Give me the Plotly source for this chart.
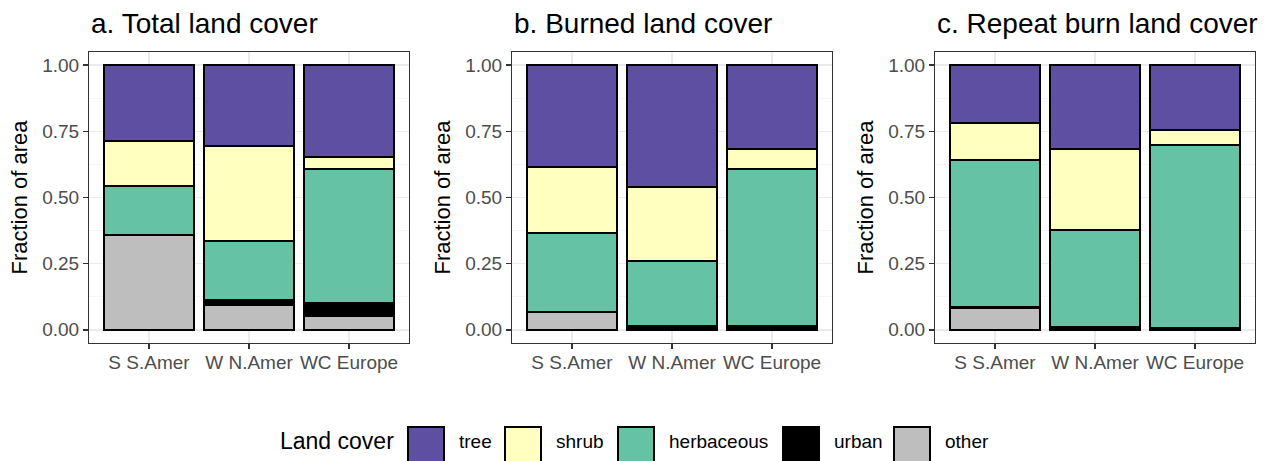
import plotly.graph_objects as go

# ---------------- data ----------------
regions = ["S S.Amer", "W N.Amer", "WC Europe"]
land_covers = ["tree", "shrub", "herbaceous", "urban", "other"]
panel_titles = ["a. Total land cover", "b. Burned land cover", "c. Repeat burn land cover"]

# fractions per region (S S.Amer, W N.Amer, WC Europe)
total_tree = [0.287, 0.306, 0.348]
total_shrub = [0.168, 0.358, 0.045]
total_herb = [0.185, 0.225, 0.504]
total_urban = [0.003, 0.018, 0.050]
total_other = [0.357, 0.093, 0.053]

burned_tree = [0.386, 0.459, 0.316]
burned_shrub = [0.247, 0.281, 0.077]
burned_herb = [0.298, 0.247, 0.592]
burned_urban = [0.002, 0.008, 0.012]
burned_other = [0.067, 0.005, 0.003]

repeat_tree = [0.218, 0.318, 0.243]
repeat_shrub = [0.140, 0.306, 0.059]
repeat_herb = [0.556, 0.364, 0.692]
repeat_urban = [0.002, 0.006, 0.005]
repeat_other = [0.084, 0.006, 0.001]

y_tick_vals = [0.0, 0.25, 0.5, 0.75, 1.0]
y_tick_text = ["0.00", "0.25", "0.50", "0.75", "1.00"]

# ---------------- styles ----------------
colors = {"tree": "#5E4FA2", "shrub": "#FFFFBF", "herbaceous": "#66C2A5",
          "urban": "#000000", "other": "#BEBEBE"}
FONT = "Liberation Sans, Arial, Helvetica, sans-serif"
W, H = 1276, 461

panels = [
    {"tree": total_tree, "shrub": total_shrub, "herbaceous": total_herb,
     "urban": total_urban, "other": total_other},
    {"tree": burned_tree, "shrub": burned_shrub, "herbaceous": burned_herb,
     "urban": burned_urban, "other": burned_other},
    {"tree": repeat_tree, "shrub": repeat_shrub, "herbaceous": repeat_herb,
     "urban": repeat_urban, "other": repeat_other},
]

# panel pixel extents
panel_left_px = [89, 512, 935]
panel_width_px = 320
panel_top_px, panel_bottom_px = 52, 343

fig = go.Figure()
stack_order = ["other", "urban", "herbaceous", "shrub", "tree"]

for i, pdata in enumerate(panels):
    ax = "" if i == 0 else str(i + 1)
    for lc in stack_order:
        fig.add_trace(go.Bar(
            x=regions, y=pdata[lc], name=lc,
            marker=dict(color=colors[lc], line=dict(color="black", width=2)),
            width=0.9, showlegend=False,
            xaxis="x" + ax, yaxis="y" + ax,
        ))

layout = dict(
    width=W, height=H, margin=dict(l=0, r=0, t=0, b=0),
    barmode="stack", plot_bgcolor="white", paper_bgcolor="white",
    font=dict(family=FONT, color="black"),
    showlegend=False,
)

annotations = []
shapes = []
for i in range(3):
    ax = "" if i == 0 else str(i + 1)
    x0 = panel_left_px[i] / W
    x1 = (panel_left_px[i] + panel_width_px) / W
    layout["xaxis" + ax] = dict(
        domain=[x0, x1], anchor="y" + ax, type="category",
        range=[-0.6, 2.6],
        showgrid=True, gridcolor="#EBEBEB", gridwidth=1.5,
        showline=True, mirror=True, linecolor="#333333", linewidth=1,
        ticks="outside", ticklen=5, tickwidth=1.5, tickcolor="#333333",
        ticklabelstandoff=-3,
        tickfont=dict(size=19, color="#4D4D4D", family=FONT),
        zeroline=False, fixedrange=True,
    )
    layout["yaxis" + ax] = dict(
        domain=[1 - panel_bottom_px / H, 1 - panel_top_px / H],
        anchor="x" + ax, range=[-0.05, 1.05],
        tickmode="array", tickvals=y_tick_vals, ticktext=y_tick_text,
        showgrid=True, gridcolor="#EBEBEB", gridwidth=1.5,
        minor=dict(tickvals=[0.125, 0.375, 0.625, 0.875], showgrid=True,
                   gridcolor="#F2F2F2", gridwidth=0.8, ticks=""),
        showline=True, mirror=True, linecolor="#333333", linewidth=1,
        ticks="outside", ticklen=5, tickwidth=1.5, tickcolor="#333333",
        tickfont=dict(size=19, color="#4D4D4D", family=FONT),
        title=dict(text="Fraction of area", font=dict(size=22, color="black", family=FONT),
                   standoff=8),
        zeroline=False, fixedrange=True,
    )
    annotations.append(dict(
        text=panel_titles[i], xref="x" + ax + " domain" if ax else "x domain",
        x=0, xanchor="left", yref="paper", y=1 - 24 / H, yanchor="middle",
        showarrow=False, font=dict(size=28, color="black", family=FONT),
    ))

# legend drawn as keys + labels (bottom)
legend_box_left_px = [408, 505, 618, 783, 894]
box_w_px = 36
box_top_px = 427
box_bottom_px = 463
legend_text_y_px = 441
annotations.append(dict(
    text="Land cover", xref="paper", x=278 / W, xanchor="left",
    yref="paper", y=1 - legend_text_y_px / H, yanchor="middle",
    showarrow=False, font=dict(size=23, color="black", family=FONT),
))
for lc, left in zip(land_covers, legend_box_left_px):
    shapes.append(dict(
        type="rect", xref="paper", yref="paper",
        x0=left / W, x1=(left + box_w_px) / W,
        y0=1 - box_bottom_px / H, y1=1 - box_top_px / H,
        fillcolor=colors[lc], line=dict(color="black", width=2),
    ))
    annotations.append(dict(
        text=lc, xref="paper", x=(left + box_w_px + 13) / W, xanchor="left",
        yref="paper", y=1 - legend_text_y_px / H, yanchor="middle",
        showarrow=False, font=dict(size=19, color="black", family=FONT),
    ))

layout["annotations"] = annotations
layout["shapes"] = shapes
fig.update_layout(**layout)

fig.write_html("out.html",
               config={"displayModeBar": False, "staticPlot": True},
               post_script="document.body.style.margin='0';document.body.style.overflow='hidden';")
